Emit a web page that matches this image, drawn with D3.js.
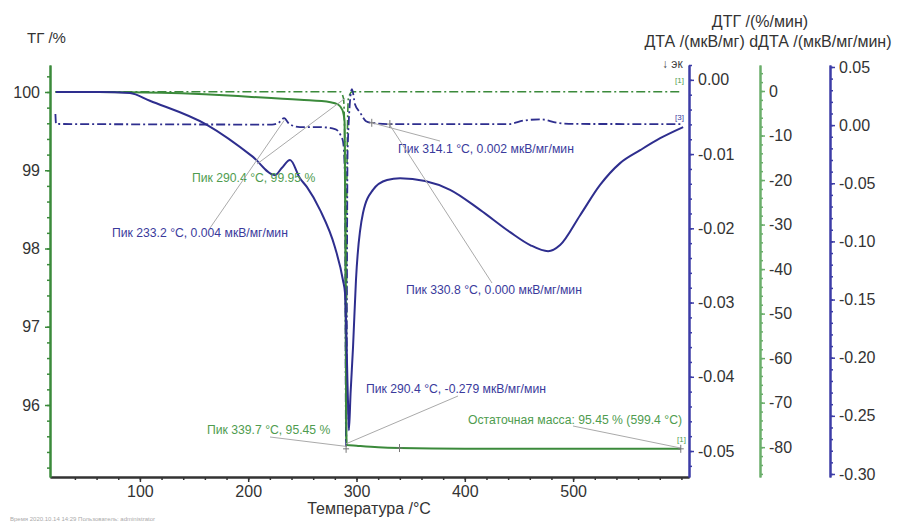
<!DOCTYPE html>
<html>
<head>
<meta charset="utf-8">
<title>ТГ / ДТА</title>
<script src="https://d3js.org/d3.v7.min.js"></script>
<style>
body { margin: 0; background: #fff; }
text { font-family: "Liberation Sans", Arial, sans-serif; }
</style>
</head>
<body>
<script type="text/javascript">

// TG, % (green solid)
var tgT = [22, 60, 120, 160, 200, 248, 276, 283, 287, 289, 289.8, 290.4, 291, 300, 320, 339.7, 400, 500, 599.4];
var tgV = [100.0, 100.0, 99.99, 99.97, 99.94, 99.90, 99.87, 99.84, 99.77, 99.62, 98.2, 96.0, 95.49, 95.48, 95.46, 95.45, 95.44, 95.44, 95.44];

// DTG, %/min (green dash-dot)
var dtgT = [22, 285, 288, 289.5, 290.4, 291.2, 292.5, 296, 599.4];
var dtgV = [-0.0016, -0.0016, -0.0025, -0.012, -0.049, -0.012, -0.0025, -0.0016, -0.0016];

// DTA, mkV/mg (navy solid)
var dtaT = [22.4, 63, 90.8, 109.2, 161.9, 204.4, 224.7, 231, 238.6, 247.8, 254.3, 266.3, 280.1, 287.5, 289.4,
            292.1, 293, 294.5, 296.8, 299.5, 306, 315.2, 328.2, 340.2, 363.3, 386.4, 414.1, 441.8, 460.3,
            476.9, 488, 506.5, 524.9, 543.4, 561.9, 580.4, 601.6];
var dtaV = [-0.2, -0.2, -0.45, -2.2, -7.6, -14.8, -18.9, -17.3, -15.5, -19.6, -21.6, -26.7, -35.1, -42.5, -45.4,
            -69.4, -76.2, -68, -57.5, -42.5, -27.4, -22.2, -20, -19.6, -20.2, -22.2, -26.7, -31.7, -34.6,
            -36, -34.6, -27.9, -21.1, -16.2, -13.3, -10.6, -8.1];

// dDTA, mkV/mg/min (navy dash-dot)
var ddtaT = [22, 22.6, 100, 200, 222, 228, 233.2, 238, 247.8, 266.3, 280.1, 284.8, 287.5, 289.2, 290.4, 291.8,
             295.8, 298.6, 303.2, 308.8, 314.1, 330.8, 440, 455, 470, 485, 500, 599.4];
var ddtaV = [0.0095, 0.001, 0.0007, 0.0005, 0.0005, 0.002, 0.006, 0.001, -0.0017, -0.0017, -0.0034, -0.0077,
             -0.0138, -0.04, -0.276, -0.02, 0.031, 0.018, 0.011, 0.0034, 0.002, 0.0009, 0.0009, 0.004, 0.005,
             0.002, 0.001, 0.0009];

// tick values
var xTicks = [100, 200, 300, 400, 500];
var tgTicks = [96, 97, 98, 99, 100];
var dtgTicks = [0, -0.01, -0.02, -0.03, -0.04, -0.05];
var dtaTicks = [0, -10, -20, -30, -40, -50, -60, -70, -80];
var ddtaTicks = [0.05, 0, -0.05, -0.10, -0.15, -0.20, -0.25, -0.30];

// peak labels
var noteText = ["Пик 290.4 °C, 99.95 %",
                "Пик 233.2 °C, 0.004 мкВ/мг/мин",
                "Пик 314.1 °C, 0.002 мкВ/мг/мин",
                "Пик 330.8 °C, 0.000 мкВ/мг/мин",
                "Пик 290.4 °C, -0.279 мкВ/мг/мин",
                "Пик 339.7 °C, 95.45 %",
                "Остаточная масса: 95.45 % (599.4 °C)"];
var noteSeries = ["tg", "dd", "dd", "dd", "dd", "tg", "tg"];
var noteAtT = [289.5, 233.2, 314.1, 330.8, 290.4, 291, 599.4];
var noteAtV = [99.92, 0.004, 0.002, 0.0, -0.274, 95.47, 95.45];

var width = 908;
var height = 524;
var green = "#3b8a3b";
var green2 = "#6aae6a";
var greenText = "#4f9c4f";
var navy = "#2e2e8e";
var navyText = "#3a3a9c";

var svg = d3.select("body")
            .append("svg")
            .attr("width", width)
            .attr("height", height);

var x = d3.scaleLinear().domain([17, 607]).range([50, 689]);
var yTG = d3.scaleLinear().domain([95.08, 100.345]).range([477, 65]);
var yDTG = d3.scaleLinear().domain([-0.0535, 0.002]).range([477, 65]);
var yDTA = d3.scaleLinear().domain([-86.7, 5.84]).range([477, 65]);
var yDD = d3.scaleLinear().domain([-0.3026, 0.0517]).range([477, 65]);

function pts(tt, vv){
    return tt.map(function(t, i){ return [t, vv[i]]; });
}

function fmt(spec){
    var f = d3.format(spec);
    return function(d){ return f(d).replace("\u2212", "-"); };
}

function styleAxis(g, color, labelColor){
    g.select(".domain").attr("stroke", color).attr("stroke-width", 2);
    g.selectAll(".tick line").attr("stroke", color).attr("stroke-width", 1.5);
    g.selectAll(".tick text").attr("fill", labelColor).style("font-size", "16px");
}

// x axis
var gx = svg.append("g").attr("transform", "translate(0,477)");
gx.call(d3.axisBottom(x).tickValues(d3.range(40, 601, 20)).tickFormat("").tickSize(3).tickSizeOuter(0));
styleAxis(gx, "#333", "#333");
var gx2 = svg.append("g").attr("transform", "translate(0,477)");
gx2.call(d3.axisBottom(x).tickValues(xTicks).tickSize(5).tickPadding(4).tickSizeOuter(0));
styleAxis(gx2, "#333", "#333");

// left TG axis
var gl = svg.append("g").attr("transform", "translate(50,0)");
gl.call(d3.axisLeft(yTG).tickValues(d3.range(95.2, 100.3, 0.2)).tickFormat("").tickSize(3).tickSizeOuter(0));
styleAxis(gl, green, "#333");
var gl2 = svg.append("g").attr("transform", "translate(50,0)");
gl2.call(d3.axisLeft(yTG).tickValues(tgTicks).tickFormat(fmt("d")).tickSize(5).tickPadding(5).tickSizeOuter(0));
styleAxis(gl2, green, "#333");

// right axes
function rightAxis(pos, scale, minor, major, f, color){
    var g1 = svg.append("g").attr("transform", "translate(" + pos + ",0)");
    g1.call(d3.axisRight(scale).tickValues(minor).tickFormat("").tickSize(3).tickSizeOuter(0));
    styleAxis(g1, color, "#333");
    var g2 = svg.append("g").attr("transform", "translate(" + pos + ",0)");
    g2.call(d3.axisRight(scale).tickValues(major).tickFormat(f).tickSize(5).tickPadding(4).tickSizeOuter(0));
    styleAxis(g2, color, "#333");
}

rightAxis(689, yDTG, d3.range(-0.052, 0.0021, 0.002), dtgTicks, fmt(".2f"), "#3c3ca6");
rightAxis(760, yDTA, d3.range(-86, 5, 2), dtaTicks, fmt("d"), green2);
rightAxis(830, yDD, d3.range(-0.30, 0.051, 0.01), ddtaTicks, fmt(".2f"), "#3c3ca6");

// axis titles
svg.append("text").attr("x", 27).attr("y", 43).attr("fill", "#333")
   .style("font-size", "15px").text("ТГ /%");
svg.append("text").attr("x", 760).attr("y", 27).attr("fill", "#333").attr("text-anchor", "middle")
   .style("font-size", "16px").text("ДТГ /(%/мин)");
svg.append("text").attr("x", 768).attr("y", 47).attr("fill", "#333").attr("text-anchor", "middle")
   .style("font-size", "16px").text("ДТА /(мкВ/мг)  dДТА /(мкВ/мг/мин)");
svg.append("text").attr("x", 369).attr("y", 514).attr("fill", "#333").attr("text-anchor", "middle")
   .style("font-size", "16px").text("Температура /°C");
svg.append("text").attr("x", 662).attr("y", 68).attr("fill", "#444")
   .style("font-size", "12px").text("↓ эк");
svg.append("text").attr("x", 10).attr("y", 521).attr("fill", "#aaa")
   .style("font-size", "6px").text("Время   2020.10.14 14:29    Пользователь: administrator");

// curves
var gLine = svg.append("g");

var lineTG = d3.line().x(function(d){ return x(d[0]); }).y(function(d){ return yTG(d[1]); }).curve(d3.curveMonotoneX);
var lineDTG = d3.line().x(function(d){ return x(d[0]); }).y(function(d){ return yDTG(d[1]); }).curve(d3.curveMonotoneX);
var lineDTA = d3.line().x(function(d){ return x(d[0]); }).y(function(d){ return yDTA(d[1]); }).curve(d3.curveMonotoneX);
var lineDD = d3.line().x(function(d){ return x(d[0]); }).y(function(d){ return yDD(d[1]); }).curve(d3.curveMonotoneX);

gLine.append("path").attr("d", lineDTG(pts(dtgT, dtgV)))
     .attr("fill", "none").attr("stroke", green).attr("stroke-width", 1.6)
     .attr("stroke-dasharray", "9,3,2,3");
gLine.append("path").attr("d", lineDD(pts(ddtaT, ddtaV)))
     .attr("fill", "none").attr("stroke", navy).attr("stroke-width", 1.8)
     .attr("stroke-dasharray", "9,3,2,3");
gLine.append("path").attr("d", lineTG(pts(tgT, tgV)))
     .attr("fill", "none").attr("stroke", green).attr("stroke-width", 2);
gLine.append("path").attr("d", lineDTA(pts(dtaT, dtaV)))
     .attr("fill", "none").attr("stroke", navy).attr("stroke-width", 2);

// annotations
var notePos = [[192, 182, 257, 164], [112, 237, 210, 228], [398, 153, 440, 141], [406, 294, 492, 283],
               [366, 393, 458, 396], [207, 434, 270, 437], [468, 424, 573, 426]];
var gNote = svg.append("g");

noteText.forEach(function(t, i){
    var sy = noteSeries[i] == "tg" ? yTG : yDD;
    var col = noteSeries[i] == "tg" ? greenText : navyText;
    gNote.append("line")
         .attr("x1", notePos[i][2]).attr("y1", notePos[i][3])
         .attr("x2", x(noteAtT[i])).attr("y2", sy(noteAtV[i]))
         .attr("stroke", "#aaa").attr("stroke-width", 1);
    gNote.append("text")
         .attr("x", notePos[i][0]).attr("y", notePos[i][1])
         .attr("fill", col).style("font-size", "12.2px")
         .text(t);
});

// small cross markers
var marks = [[314.1, yDD(0.002)], [330.8, yDD(0.0009)], [339.7, yTG(95.45)], [290.4, yTG(95.44)], [599.4, yTG(95.44)]];
gNote.selectAll(".mark").data(marks).enter().append("path")
     .attr("d", function(d){
         var cx = x(d[0]), cy = d[1];
         return "M" + (cx - 3) + "," + cy + "H" + (cx + 3) + "M" + cx + "," + (cy - 4) + "V" + (cy + 4);
     })
     .attr("stroke", "#777").attr("stroke-width", 1);

// curve tags
svg.append("text").attr("x", 675).attr("y", 83).attr("fill", greenText).style("font-size", "8px").text("[1]");
svg.append("text").attr("x", 675).attr("y", 120).attr("fill", navyText).style("font-size", "8px").text("[3]");
svg.append("text").attr("x", 677).attr("y", 442).attr("fill", greenText).style("font-size", "8px").text("[1]");

</script>
</body>
</html>
